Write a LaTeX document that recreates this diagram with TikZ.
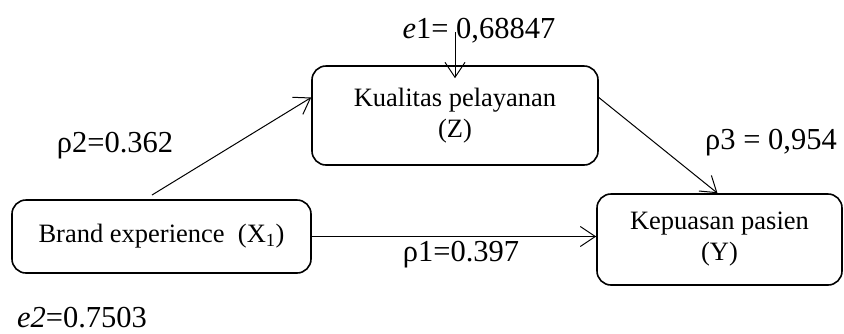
\documentclass[tikz,border=0pt]{standalone}
\usepackage{fontspec}
\setmainfont{Liberation Serif}
\usetikzlibrary{arrows.meta}
\begin{document}
\begin{tikzpicture}[x=1pt,y=-1pt,
  varbox/.style={draw, line width=1.6pt, rounded corners=14pt, inner sep=0pt,
    align=center, font=\fontsize{26.5}{31}\selectfont},
  link/.style={line width=1pt, -{Straight Barb[length=15pt,width=20pt,line width=1pt]}},
  lbl/.style={inner sep=0pt, anchor=base, font=\fontsize{30.5}{36}\selectfont}]
\useasboundingbox (0,0) rectangle (844,333);
\node[varbox, minimum width=286pt, minimum height=99pt] (Z) at (455,115.5) {Kualitas pelayanan\\(Z)};
\node[varbox, minimum width=299pt, minimum height=73pt] (X) at (161.5,236.5) {Brand experience\ \ (X\textsubscript{1})};
\node[varbox, minimum width=245pt, minimum height=91pt] (Y) at (719.5,239.5) {Kepuasan pasien\\(Y)};
\node[lbl] (e1) at (479,38) {\textit{e}1= 0,68847};
\node[lbl] (p2) at (115,152) {ρ2=0.362};
\node[lbl] (p3) at (771,149) {ρ3 = 0,954};
\node[lbl] (p1) at (461,261) {ρ1=0.397};
\node[lbl] (e2) at (82,327) {\textit{e2}=0.7503};
\coordinate (e1top) at (455,32);
\coordinate (xs) at (152,195);
\draw[link] (e1top) -- ([yshift=-13pt]Z.north);
\draw[link] (xs) -- ([yshift=18pt]Z.west);
\draw[link] ([yshift=18pt]Z.east) -- ([xshift=-2pt]Y.north);
\draw[link] (X.east) -- (X.east -| Y.west);
\end{tikzpicture}
\end{document}
